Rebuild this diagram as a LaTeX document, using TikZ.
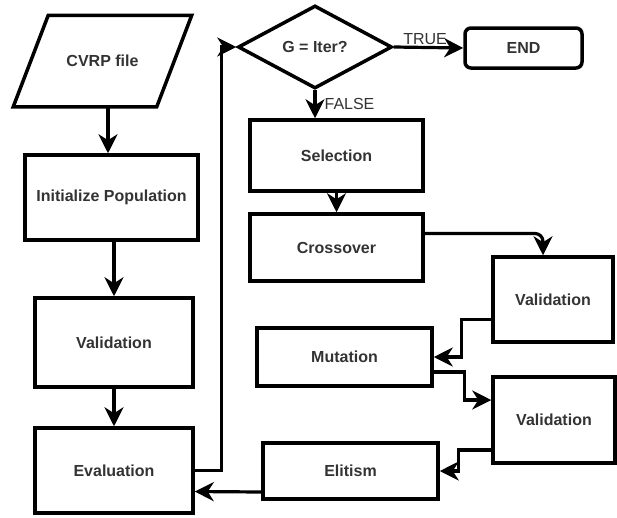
\documentclass[tikz,border=0pt]{standalone}
\usepackage{fontspec}
\setmainfont{Liberation Sans}
\usetikzlibrary{arrows.meta,positioning,calc,shapes.geometric}
\definecolor{txtcolor}{RGB}{51,51,51}
\newcommand{\boxfont}{\fontsize{16}{19}\selectfont\bfseries}
\newcommand{\lblfont}{\fontsize{16}{19}\selectfont}
\tikzset{
  procbox/.style={draw, line width=3.5pt, font=\boxfont, text=txtcolor, inner sep=0pt},
  iobox/.style={procbox, draw=none, minimum width=175pt, minimum height=88pt},
  decbox/.style={procbox, diamond, aspect=1.86, minimum width=154pt, minimum height=83pt},
  endbox/.style={procbox, rounded corners=6pt},
  flowln/.style={-{Stealth[length=19pt,width=19pt,inset=6pt]}, line width=3.2pt},
  edgelbl/.style={font=\lblfont, text=txtcolor, inner sep=1pt},
}

\begin{document}
\begin{tikzpicture}[x=1pt, y=-1pt]
    \useasboundingbox (0,0) rectangle (617,517);
    % left column: setup
    \node[iobox] (cvrp) at (102.5,61) {CVRP file};
    \draw[line width=3.5pt, line join=miter] ($(cvrp.north west)+(35,0)$) -- (cvrp.north east)
      -- ($(cvrp.south east)+(-35,0)$) -- (cvrp.south west) -- cycle;
    \node[procbox, minimum width=173pt, minimum height=85pt] (init) at (111.5,197.5) {Initialize Population};
    \node[procbox, minimum width=158pt, minimum height=89pt] (valA) at (114,342.5) {Validation};
    \node[procbox, minimum width=158pt, minimum height=85pt] (eval) at (114,470.5) {Evaluation};
    % loop test
    \node[decbox] (cond) at (315,47) {G = Iter?};
    \node[endbox, minimum width=117pt, minimum height=40pt] (endn) at (523.5,48) {END};
    % genetic operators
    \node[procbox, minimum width=173pt, minimum height=71pt] (sel) at (336.5,155.5) {Selection};
    \node[procbox, minimum width=173pt, minimum height=67pt] (cross) at (336.5,247.5) {Crossover};
    \node[procbox, minimum width=120pt, minimum height=85pt] (valB) at (553,299.5) {Validation};
    \node[procbox, minimum width=175pt, minimum height=58pt] (mut) at (344.5,357) {Mutation};
    \node[procbox, minimum width=122pt, minimum height=86pt] (valC) at (554,420) {Validation};
    \node[procbox, minimum width=175pt, minimum height=56pt] (elit) at (350.5,471) {Elitism};
    % connectors
    \draw[flowln] ($(cvrp.south)+(5.5,0)$) -- ($(init.north)+(-3.5,0)$);
    \draw[flowln] (init.south -| valA.north) -- (valA.north);
    \draw[flowln] (valA) -- (eval);
    \draw[flowln] (eval.east) -- ++(27,0) |- (cond.west);
    \draw[flowln] (cond.east) -- (endn.west) node[edgelbl, above, pos=0.45] {TRUE};
    \draw[flowln] (cond.south) -- (cond.south |- sel.north) node[edgelbl, right, pos=0.5, xshift=7pt] {FALSE};
    \draw[flowln] (sel) -- (cross);
    \draw[flowln, rounded corners=8pt] ($(cross.east)+(0,-14)$) -| ($(valB.north)+(-10,0)$);
    \draw[flowln] ($(valB.west)+(0,20)$) -- ++(-30,0) |- (mut.east);
    \draw[flowln] ($(mut.east)+(0,15)$) -- ++(31,0) |- ($(valC.west)+(0,-20)$);
    \draw[flowln] ($(valC.west)+(0,30)$) -- ++(-33,0) |- (elit.east);
    \draw[flowln] ($(elit.west)+(0,21)$) -- ($(eval.east)+(0,21)$);
\end{tikzpicture}
\end{document}
